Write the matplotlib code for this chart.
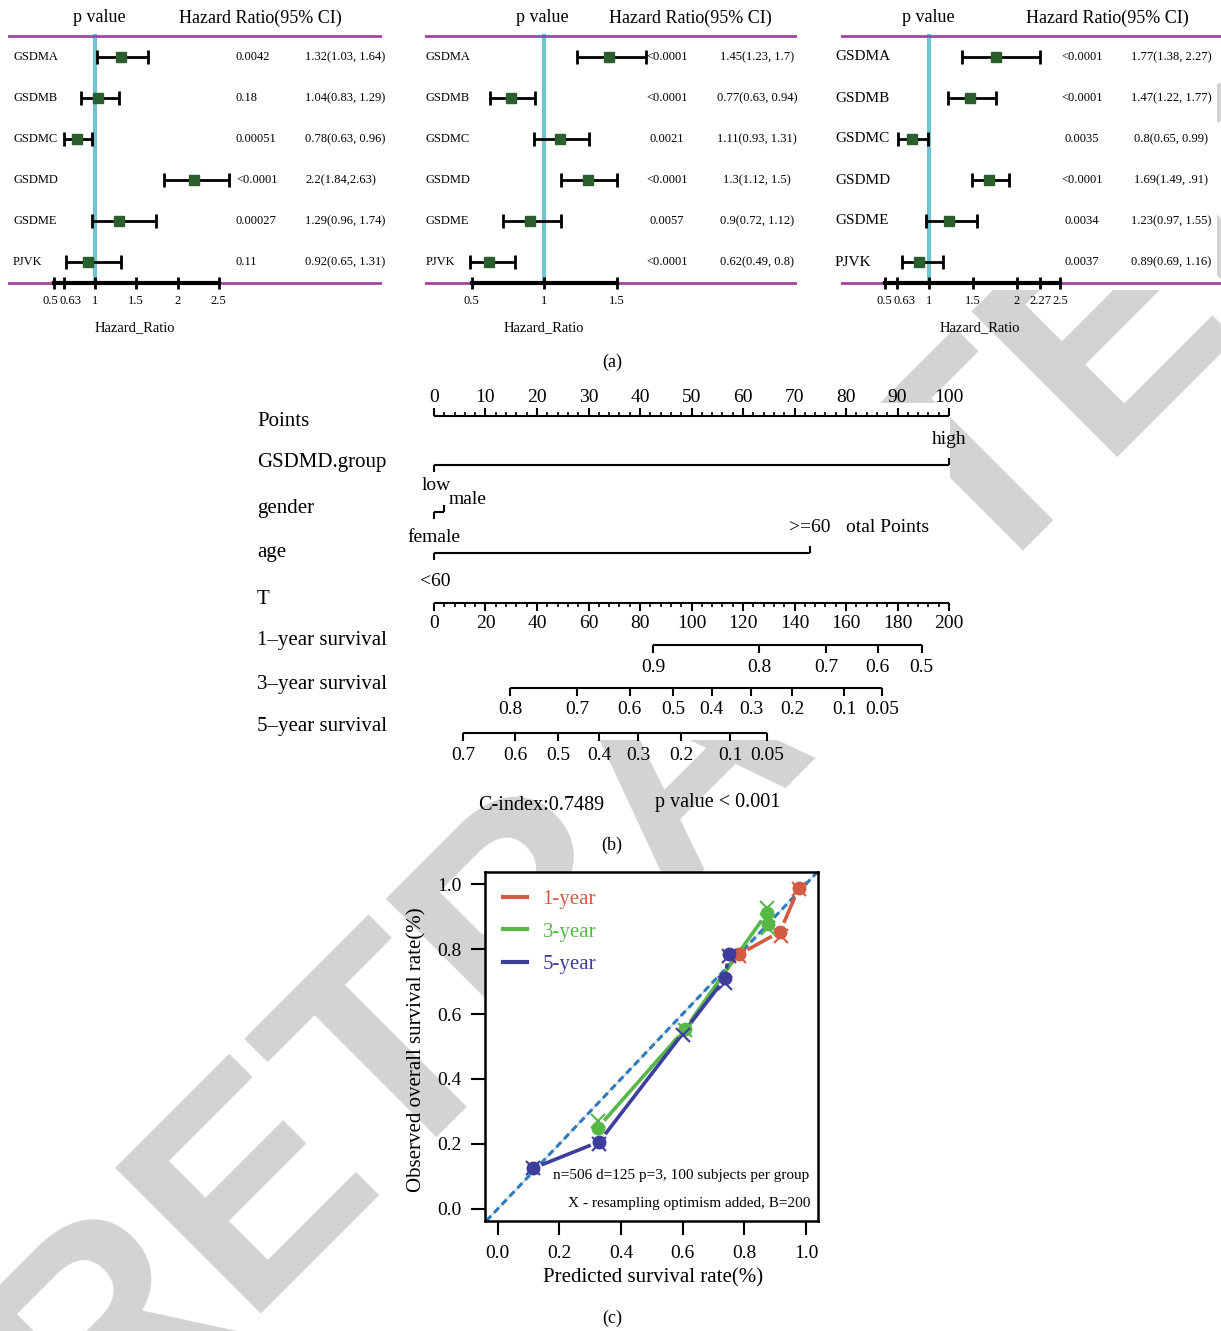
import matplotlib.pyplot as plt
import matplotlib.transforms as mtransforms
from matplotlib.lines import Line2D
from matplotlib.patches import Rectangle
import numpy as np

plt.rcParams['font.family'] = ['Liberation Serif', 'DejaVu Serif']

# ---------------- data ----------------
genes = ['GSDMA', 'GSDMB', 'GSDMC', 'GSDMD', 'GSDME', 'PJVK']

# panel a, left
hr_1 = [1.32, 1.04, 0.78, 2.2, 1.29, 0.92]
lo_1 = [1.03, 0.83, 0.63, 1.84, 0.96, 0.65]
hi_1 = [1.64, 1.29, 0.96, 2.63, 1.74, 1.31]
p_1 = ['0.0042', '0.18', '0.00051', '<0.0001', '0.00027', '0.11']
ci_1 = ['1.32(1.03, 1.64)', '1.04(0.83, 1.29)', '0.78(0.63, 0.96)',
        '2.2(1.84,2.63)', '1.29(0.96, 1.74)', '0.92(0.65, 1.31)']
ticks_1 = [0.5, 0.63, 1, 1.5, 2, 2.5]

# panel a, middle
hr_2 = [1.45, 0.77, 1.11, 1.3, 0.9, 0.62]
lo_2 = [1.23, 0.63, 0.93, 1.12, 0.72, 0.49]
hi_2 = [1.7, 0.94, 1.31, 1.5, 1.12, 0.8]
p_2 = ['<0.0001', '<0.0001', '0.0021', '<0.0001', '0.0057', '<0.0001']
ci_2 = ['1.45(1.23, 1.7)', '0.77(0.63, 0.94)', '1.11(0.93, 1.31)',
        '1.3(1.12, 1.5)', '0.9(0.72, 1.12)', '0.62(0.49, 0.8)']
ticks_2 = [0.5, 1, 1.5]

# panel a, right
hr_3 = [1.77, 1.47, 0.8, 1.69, 1.23, 0.89]
lo_3 = [1.38, 1.22, 0.65, 1.49, 0.97, 0.69]
hi_3 = [2.27, 1.77, 0.99, 1.91, 1.55, 1.16]
p_3 = ['<0.0001', '<0.0001', '0.0035', '<0.0001', '0.0034', '0.0037']
ci_3 = ['1.77(1.38, 2.27)', '1.47(1.22, 1.77)', '0.8(0.65, 0.99)',
        '1.69(1.49, .91)', '1.23(0.97, 1.55)', '0.89(0.69, 1.16)']
ticks_3 = [0.5, 0.63, 1, 1.5, 2, 2.27, 2.5]

# panel b, nomogram (points / total points)
group_pts = [0, 100]
group_lbl = ['low', 'high']
gender_pts = [0, 2]
gender_lbl = ['female', 'male']
age_pts = [0, 73]
age_lbl = ['<60', '>=60']
surv1_p = ['0.9', '0.8', '0.7', '0.6', '0.5']
surv1_tp = [85, 126.3, 152.2, 172.3, 189.4]
surv3_p = ['0.8', '0.7', '0.6', '0.5', '0.4', '0.3', '0.2', '0.1', '0.05']
surv3_tp = [29.5, 55.5, 76, 93, 107.8, 123.1, 139.1, 159.2, 173.9]
surv5_p = ['0.7', '0.6', '0.5', '0.4', '0.3', '0.2', '0.1', '0.05']
surv5_tp = [11.3, 31.5, 48.3, 64.1, 79.2, 95.9, 115, 129.4]

# panel c, calibration
y1_pred = [0.784, 0.916, 0.976]
y1_obs = [0.784, 0.853, 0.987]
y1_xpred = [0.784, 0.918, 0.976]
y1_xobs = [0.78, 0.84, 0.985]
y3_pred = [0.325, 0.607, 0.874, 0.876]
y3_obs = [0.25, 0.553, 0.912, 0.877]
y3_xpred = [0.325, 0.607, 0.874, 0.876]
y3_xobs = [0.27, 0.55, 0.925, 0.865]
y5_pred = [0.114, 0.33, 0.738, 0.749]
y5_obs = [0.125, 0.207, 0.71, 0.785]
y5_xpred = [0.114, 0.33, 0.6, 0.738, 0.749]
y5_xobs = [0.125, 0.2, 0.535, 0.695, 0.78]

# ---------------- figure ----------------
W, H = 1221, 1331
fig = plt.figure(figsize=(W / 100, H / 100), dpi=100)


def add_axes_px(left, top, right, bottom):
    ax = fig.add_axes([left / W, 1 - bottom / H, (right - left) / W, (bottom - top) / H])
    ax.patch.set_alpha(0)
    return ax


def white_box(left, top, right, bottom):
    fig.patches.append(Rectangle((left / W, 1 - bottom / H), (right - left) / W,
                                 (bottom - top) / H, transform=fig.transFigure,
                                 facecolor='white', edgecolor='none', zorder=-5))


# watermark behind the pictures
fig.text(685 / W, 1 - 760 / H, 'RETRACTED', rotation=45, rotation_mode='anchor',
         ha='center', va='center', fontsize=215, family='Liberation Sans',
         weight='bold', color='#d3d3d3', zorder=-10)
white_box(825, 0, 1217, 290)
white_box(240, 403, 950, 740)
white_box(485, 872, 818, 1221)

ROW0, ROWSTEP = 57, 41


def row_of(py):
    return (py - ROW0) / ROWSTEP


def forest(left, right, one_px, ppu, hr, lo, hi, pv, ci, ticks, shifts, cols, gene_size):
    ax = add_axes_px(left, 0, right, 340)
    ax.set_xlim(1 + (left - one_px) / ppu, 1 + (right - one_px) / ppu)
    ax.set_ylim(row_of(340), row_of(0))
    for s in ['top', 'left', 'right']:
        ax.spines[s].set_visible(False)
    ax.set_yticks([])
    ax.spines['bottom'].set_position(('data', row_of(283)))
    ax.spines['bottom'].set_bounds(ticks[0], ticks[-1])
    ax.spines['bottom'].set_linewidth(3)
    ax.set_xticks(ticks, [f'{t:g}' for t in ticks])
    ax.tick_params(axis='x', direction='inout', length=8, width=2, labelsize=9, pad=5)
    for lab, dx in zip(ax.get_xticklabels(), shifts):
        if dx:
            lab.set_transform(lab.get_transform() +
                              mtransforms.ScaledTranslation(dx / 100, 0, fig.dpi_scale_trans))

    ax.axhline(row_of(36), color='#a2459f', lw=2)
    ax.axhline(row_of(283), color='#a2459f', lw=2)
    ax.plot([1, 1], [row_of(36), row_of(283)], color='#6fc4cf', lw=3, zorder=1)

    y = np.arange(len(hr))
    hr, lo, hi = np.array(hr), np.array(lo), np.array(hi)
    ax.errorbar(hr, y, xerr=[hr - lo, hi - hr], fmt='s', ms=7, mfc='#2a5e2f', mec='#2a5e2f',
                ecolor='black', elinewidth=2, capsize=5, capthick=2, zorder=3)

    tr = mtransforms.blended_transform_factory(fig.transFigure, ax.transData)
    gx, px, pha, cx, cha, hp, hh, xl = cols
    for i in range(len(genes)):
        ax.text(gx / W, i, genes[i], transform=tr, fontsize=gene_size, va='center', ha='left')
        ax.text(px / W, i, pv[i], transform=tr, fontsize=9, va='center', ha=pha)
        ax.text(cx / W, i, ci[i], transform=tr, fontsize=9, va='center', ha=cha)
    ax.text(hp / W, row_of(17), 'p value', transform=tr, fontsize=13, va='center', ha='center')
    ax.text(hh / W, row_of(18), 'Hazard Ratio(95% CI)', transform=tr, fontsize=13,
            va='center', ha='center')
    ax.text(xl / W, row_of(328), 'Hazard_Ratio', transform=tr, fontsize=10.5,
            va='center', ha='center')


forest(8, 382, 95, 82.5, hr_1, lo_1, hi_1, p_1, ci_1, ticks_1, [-3, 6, 0, 0, 0, 0],
       (13, 236, 'left', 305, 'left', 99, 260, 135), 9)
forest(425, 797, 544, 145, hr_2, lo_2, hi_2, p_2, ci_2, ticks_2, [0, 0, 0],
       (426, 667, 'center', 757, 'center', 542, 690, 544), 9)
forest(841, 1221, 929, 87.5, hr_3, lo_3, hi_3, p_3, ci_3, ticks_3, [-1, 8, 0, 0, 0, 0, 0],
       (835, 1082, 'center', 1171, 'center', 928, 1107, 980), 11)

# ---------------- (b) nomogram ----------------
PX0, PPP = 434, 5.15
axb = add_axes_px(240, 380, 1000, 820)
axb.set_xlim((240 - PX0) / PPP, (1000 - PX0) / PPP)
axb.set_ylim(820, 380)
axb.axis('off')
trb = mtransforms.blended_transform_factory(fig.transFigure, axb.transData)
LW = 1.5
FS = 14

row_names = ['Points', 'GSDMD.group', 'gender', 'age', 'T',
             '1–year survival', '3–year survival', '5–year survival']
row_label_y = [422, 463, 509, 552, 599, 641, 684, 727]
for name, yy in zip(row_names, row_label_y):
    axb.text(257 / W, yy, name, transform=trb, fontsize=15, va='center', ha='left')

# points ruler
yp = 416
axb.hlines(yp, 0, 100, color='black', lw=LW)
axb.vlines(np.arange(0, 101, 2), yp, yp - 4, color='black', lw=1.2)
axb.vlines(np.arange(0, 101, 10), yp, yp - 8, color='black', lw=1.5)
for v in range(0, 101, 10):
    axb.text(v, 397, str(v), fontsize=FS, ha='center', va='center')


def var_line(yy, pts, lbls, below_pos, above_pos):
    axb.hlines(yy, pts[0], pts[1], color='black', lw=LW)
    axb.vlines(pts[0], yy, yy + 7, color='black', lw=LW)
    axb.vlines(pts[1], yy, yy - 7, color='black', lw=LW)
    axb.text(pts[0] + below_pos[0], yy + below_pos[1], lbls[0], fontsize=FS,
             ha=below_pos[2], va='center')
    axb.text(pts[1] + above_pos[0], yy + above_pos[1], lbls[1], fontsize=FS,
             ha=above_pos[2], va='center')


var_line(465, group_pts, group_lbl, (0.5, 20, 'center'), (0, -25, 'center'))
var_line(512, gender_pts, gender_lbl, (0, 26, 'center'), (0.8, -12, 'left'))
var_line(553, age_pts, age_lbl, (0.2, 29, 'center'), (0, -26, 'center'))
axb.text(846 / W, 527, 'otal Points', transform=trb, fontsize=FS, ha='left', va='center')

# total points ruler (0-200 drawn on the 0-100 points scale)
yt = 603
axb.hlines(yt, 0, 100, color='black', lw=LW)
axb.vlines(np.arange(0, 201, 4) / 2, yt, yt + 4, color='black', lw=1.2)
axb.vlines(np.arange(0, 201, 20) / 2, yt, yt + 8, color='black', lw=1.5)
for v in range(0, 201, 20):
    axb.text(v / 2, 623, str(v), fontsize=FS, ha='center', va='center')


def surv_line(yy, tps, lbls):
    x = np.array(tps) / 2
    axb.hlines(yy, x.min(), x.max(), color='black', lw=LW)
    axb.vlines(x, yy, yy + 8, color='black', lw=LW)
    for xi, lb in zip(x, lbls):
        axb.text(xi, yy + 22, lb, fontsize=FS, ha='center', va='center')


surv_line(645, surv1_tp, surv1_p)
surv_line(688, surv3_tp, surv3_p)
surv_line(733, surv5_tp, surv5_p)

fig.text(541 / W, 1 - 805 / H, 'C-index:0.7489', fontsize=14.5, ha='center', va='center')
fig.text(718 / W, 1 - 802 / H, 'p value < 0.001', fontsize=14.5, ha='center', va='center')

# ---------------- (c) calibration ----------------
axc = add_axes_px(485, 872, 818, 1221)
axc.set_xlim(-0.041, 1.039)
axc.set_ylim(-0.037, 1.037)
for s in axc.spines.values():
    s.set_linewidth(1.8)
ticks = np.arange(0, 1.01, 0.2)
axc.set_xticks(ticks, [f'{t:.1f}' for t in ticks])
axc.set_yticks(ticks, [f'{t:.1f}' for t in ticks])
axc.tick_params(direction='out', length=10, width=1.5, labelsize=14, pad=7)

axc.axline((0, 0), (1, 1), color='#cfcfcf', lw=1, zorder=1)
axc.axline((0, 0), (1, 1), color='#2b7bbf', lw=2.2, ls=(0, (2.3, 1.4)), zorder=2)

c1, c3, c5 = '#d35a43', '#55b847', '#3d3d9b'


def gapped(x, y, color, gap=0.03):
    for x0, y0, x1, y1 in zip(x[:-1], y[:-1], x[1:], y[1:]):
        d = np.hypot(x1 - x0, y1 - y0)
        if d <= 2 * gap:
            continue
        ux, uy = (x1 - x0) / d, (y1 - y0) / d
        axc.plot([x0 + gap * ux, x1 - gap * ux], [y0 + gap * uy, y1 - gap * uy],
                 color=color, lw=2.6, solid_capstyle='butt', zorder=3)


for xp, yo, xx, xy, col in [(y1_pred, y1_obs, y1_xpred, y1_xobs, c1),
                             (y3_pred, y3_obs, y3_xpred, y3_xobs, c3),
                             (y5_pred, y5_obs, y5_xpred, y5_xobs, c5)]:
    gapped(xp, yo, col)
    axc.plot(xp, yo, 'o', color=col, ms=9, zorder=4)
    axc.plot(xx, xy, 'x', color=col, ms=10, mew=1.5, zorder=4)

handles = [Line2D([], [], color=c, lw=3) for c in (c1, c3, c5)]
leg = axc.legend(handles, ['1-year', '3-year', '5-year'], loc='upper left',
                 bbox_to_anchor=(0.054, 0.95), frameon=False, fontsize=15,
                 handlelength=1.15, handletextpad=0.75, labelspacing=0.62,
                 borderaxespad=0, borderpad=0, labelcolor='linecolor')

axc.text(0.973, 0.129, 'n=506 d=125 p=3, 100 subjects per group', transform=axc.transAxes,
         fontsize=11, ha='right', va='center')
axc.text(0.976, 0.049, 'X - resampling optimism added, B=200', transform=axc.transAxes,
         fontsize=11, ha='right', va='center')

fig.text(653 / W, 1 - 1278 / H, 'Predicted survival rate(%)', fontsize=15,
         ha='center', va='center')
fig.text(417 / W, 1 - 1050 / H, 'Observed overall survival rate(%)', fontsize=15,
         ha='center', va='center', rotation=90)

for lab, yy in [('(a)', 362), ('(b)', 845), ('(c)', 1318)]:
    fig.text(612 / W, 1 - yy / H, lab, fontsize=13, ha='center', va='center')

fig.savefig('out.png', dpi=100)
